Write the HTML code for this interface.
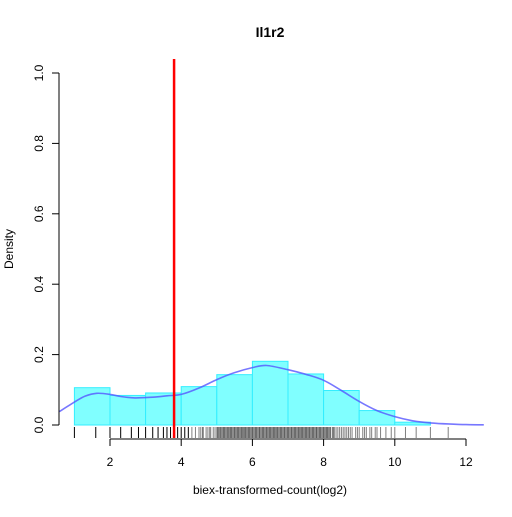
<!DOCTYPE html>
<html><head><meta charset="utf-8"><style>
body{margin:0;background:#fff}
svg text{font-family:"Liberation Sans",sans-serif;fill:#000}
</style></head><body>
<svg id="c" width="512" height="512" xmlns="http://www.w3.org/2000/svg">
<text x="270" y="37" text-anchor="middle" font-weight="bold" font-size="14">Il1r2</text>
<text x="270" y="494" text-anchor="middle" font-size="12">biex-transformed-count(log2)</text>
<text transform="translate(13,249) rotate(-90)" text-anchor="middle" font-size="12">Density</text>
<g id="bars"></g>
<g id="rug"></g>
<path id="dens" fill="none" stroke="#5555ff" stroke-opacity="0.8" stroke-width="1.6"/>
<g id="xaxis"></g>
<g id="yaxis"></g>
<line id="thr" stroke="#ff0000" stroke-width="2.5"/>
</svg>
<script>
const binStarts=[1,2,3,4,5,6,7,8,9,10];
const binHeights=[0.106,0.084,0.091,0.109,0.143,0.181,0.145,0.098,0.041,0.008];
const densX=[0.58,1,1.3,1.63,2,2.3,2.7,3.2,3.6,4,4.5,5,5.5,6,6.4,7,7.5,8,8.5,9,9.5,10,10.5,11,11.5,12,12.5];
const densY=[0.038,0.065,0.082,0.09,0.087,0.081,0.077,0.079,0.083,0.087,0.105,0.129,0.149,0.163,0.169,0.157,0.144,0.127,0.098,0.067,0.041,0.024,0.012,0.006,0.003,0.001,0.0005];
const xTicks=[2,4,6,8,10,12];
const yTicks=[0,0.2,0.4,0.6,0.8,1.0];
const yTickLabels=["0.0","0.2","0.4","0.6","0.8","1.0"];
const threshold=3.8;
const rugValues=[1.0,1.6,2.0,2.3,2.6,2.8,3.0,3.2,3.35,3.5,3.6,3.7,3.8,3.9,4.0,4.1,4.2,4.3,4.4,4.5,4.55,4.6,4.7,4.75,4.8,4.9,4.95,5.0,5.05,5.1,5.15,5.2,5.25,5.3,5.35,5.4,5.45,5.5,5.55,5.6,5.65,5.7,5.75,5.8,5.85,5.9,5.95,6.0,6.05,6.1,6.15,6.2,6.25,6.3,6.35,6.4,6.45,6.5,6.55,6.6,6.65,6.7,6.75,6.8,6.85,6.9,6.95,7.0,7.05,7.1,7.15,7.2,7.25,7.3,7.35,7.4,7.45,7.5,7.55,7.6,7.65,7.7,7.75,7.8,7.85,7.9,7.95,8.0,8.05,8.1,8.15,8.2,8.3,8.35,8.4,8.5,8.6,8.65,8.7,8.8,8.9,9.0,9.1,9.2,9.3,9.45,9.6,9.75,9.9,10.0,10.3,10.6,11.0,11.5,
4.62,4.83,5.02,5.12,5.22,5.33,5.42,5.52,5.62,5.72,5.82,5.92,6.02,6.12,6.22,6.32,6.42,6.52,6.62,6.72,6.82,6.92,7.02,7.12,7.22,7.32,7.42,7.52,7.62,7.72,7.82,7.92,8.02,8.12,8.25,8.45,8.55,8.75,8.95,9.15,9.35,9.5,
5.07,5.18,5.28,5.38,5.48,5.58,5.68,5.78,5.88,5.98,6.08,6.18,6.28,6.38,6.48,6.58,6.68,6.78,6.88,6.98,7.08,7.18,7.28,7.38,7.48,7.58,7.68,7.78,7.88,7.98,8.08,8.18,8.28];
const sx=v=>38.8+35.6*v, sy=v=>425-352*v;
const NS="http://www.w3.org/2000/svg";
function mk(t,a,p){const e=document.createElementNS(NS,t);for(const k in a)e.setAttribute(k,a[k]);p.appendChild(e);return e;}
const bars=document.getElementById('bars');
binStarts.forEach((b,i)=>{const r=mk('rect',{x:sx(b),y:sy(binHeights[i]),width:sx(b+1)-sx(b),height:sy(0)-sy(binHeights[i]),fill:'#80ffff',stroke:'#33eeff','stroke-width':1},bars);

});
const rug=document.getElementById('rug');
rugValues.forEach(v=>{const l=mk('line',{x1:sx(v),x2:sx(v),y1:427,y2:438,stroke:'#000','stroke-opacity':v<4.3?1:0.5,'stroke-width':1},rug);

});
const P=densX.map((x,i)=>[sx(x),sy(densY[i])]);
let d='M'+P[0][0].toFixed(1)+','+P[0][1].toFixed(1);
for(let i=0;i<P.length-1;i++){const p0=P[Math.max(i-1,0)],p1=P[i],p2=P[i+1],p3=P[Math.min(i+2,P.length-1)];
const c1=[p1[0]+(p2[0]-p0[0])/6,p1[1]+(p2[1]-p0[1])/6],c2=[p2[0]-(p3[0]-p1[0])/6,p2[1]-(p3[1]-p1[1])/6];
d+=`C${c1[0].toFixed(1)},${c1[1].toFixed(1)} ${c2[0].toFixed(1)},${c2[1].toFixed(1)} ${p2[0].toFixed(1)},${p2[1].toFixed(1)}`;}
document.getElementById('dens').setAttribute('d',d);
const xa=document.getElementById('xaxis');
mk('line',{x1:sx(xTicks[0]),x2:sx(xTicks[xTicks.length-1]),y1:439,y2:439,stroke:'#000'},xa);
xTicks.forEach(t=>{mk('line',{x1:sx(t),x2:sx(t),y1:439,y2:446,stroke:'#000'},xa);
const tx=mk('text',{x:sx(t),y:466,'text-anchor':'middle','font-size':12},xa);tx.textContent=t;

});
const ya=document.getElementById('yaxis');
mk('line',{x1:59,x2:59,y1:sy(0),y2:sy(1),stroke:'#000'},ya);
yTicks.forEach((t,i)=>{mk('line',{x1:52,x2:59,y1:sy(t),y2:sy(t),stroke:'#000'},ya);
const tx=mk('text',{transform:`translate(43,${sy(t)}) rotate(-90)`,'text-anchor':'middle','font-size':12},ya);tx.textContent=yTickLabels[i];

});
const th=document.getElementById('thr');
th.setAttribute('x1',sx(threshold));th.setAttribute('x2',sx(threshold));th.setAttribute('y1',59);th.setAttribute('y2',438);
</script>
</body></html>
